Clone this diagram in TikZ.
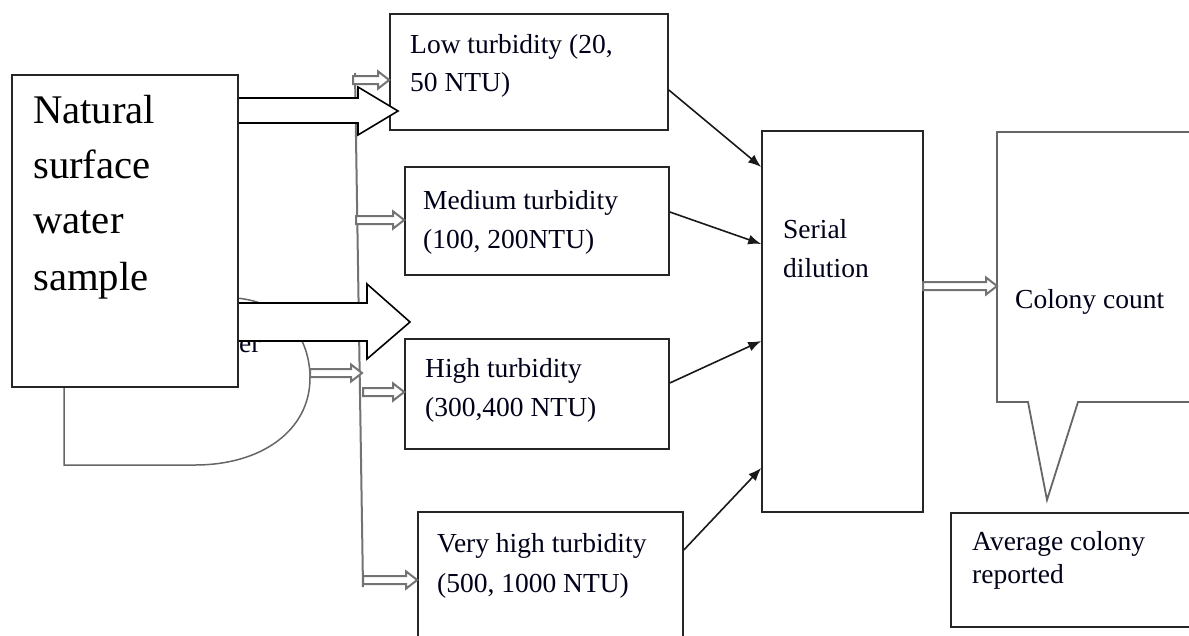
\documentclass[tikz,border=0pt]{standalone}
\usepackage{fontspec}
\setmainfont{Liberation Serif}
\usetikzlibrary{arrows.meta,calc}
\newcommand{\hollowarr}[2]{%
  \path[harrow] let \p1=(#1), \p2=(#2) in
    (\x1,\y1+4pt) -- (\x2-11pt,\y1+4pt) -- (\x2-11pt,\y1+8.5pt) -- (\x2,\y1)
    -- (\x2-11pt,\y1-8.5pt) -- (\x2-11pt,\y1-4pt) -- (\x1,\y1-4pt) -- cycle;}
\tikzset{
  box/.style={draw=black!85, line width=1.6pt, fill=white, inner sep=0pt},
  txt/.style={anchor=base west, inner sep=0pt, text=black!90!blue, font=\fontsize{27.5}{33}\selectfont},
  bigtxt/.style={anchor=base west, inner sep=0pt, text=black, font=\fontsize{40.7}{50}\selectfont},
  conn/.style={draw=black!90, line width=1.6pt, -{Latex[length=13pt,width=10pt]}},
  harrow/.style={draw=black!55, line width=2pt, fill=white},
  bigarrow/.style={draw=black, line width=1.6pt, fill=white},
  grayline/.style={draw=black!55, line width=2pt},
  dshape/.style={draw=black!60, line width=1.5pt},
  callout/.style={draw=black!60, line width=1.8pt, fill=white}
}
\begin{document}
\begin{tikzpicture}[x=1pt,y=-1pt]
\useasboundingbox (0,0) rectangle (1189,635);
\fill[white] (0,0) rectangle (1189,635);
\clip (0,0) rectangle (1189,635);

% hidden D-shaped element behind the sample box
\draw[dshape] (64,387) -- (64,465) -- (195,465)
  .. controls (262,465) and (310,430) .. (310,378)
  .. controls (310,338) and (285,302) .. (236,298);
\node[txt] (frag) at (239,352) {er};

% distribution line
\coordinate (vtop) at (355,73);
\coordinate (vbot) at (363,587);
\draw[grayline] (vtop) -- (vbot);

% boxes
\node[box, minimum width=278pt, minimum height=116pt] (low) at (529,72) {};
\node[box, minimum width=264pt, minimum height=108pt] (med) at (537,221) {};
\node[box, minimum width=264pt, minimum height=110pt] (high) at (537,394) {};
\node[box, minimum width=265pt, minimum height=148pt] (vhigh) at (550.5,586) {};
\node[box, minimum width=161pt, minimum height=381pt] (serial) at (842.5,321.5) {};

% small hollow arrows
\coordinate (d1) at (310,373);
\coordinate (d2) at (362,373);
\coordinate (s1) at (353,80);
\coordinate (s2) at (356,220);
\coordinate (s3) at (363,392);
\coordinate (s4) at (363,580);
\hollowarr{d1}{d2}
\hollowarr{s1}{low.west}
\hollowarr{s2}{med.west}
\hollowarr{s3}{high.west}
\hollowarr{s4}{vhigh.west}

% texts in boxes
\node[txt] (lowa) at (410,53) {Low turbidity (20,};
\node[txt] (lowb) at (410,91) {50 NTU)};
\node[txt] (meda) at (423,209) {Medium turbidity};
\node[txt] (medb) at (423,248) {(100, 200NTU)};
\node[txt] (higha) at (425,377) {High turbidity};
\node[txt] (highb) at (425,416) {(300,400 NTU)};
\node[txt] (vha) at (437,552) {Very high turbidity};
\node[txt] (vhb) at (437,592) {(500, 1000 NTU)};
\node[txt] (sera) at (783,238) {Serial};
\node[txt] (serb) at (783,277) {dilution};

% connectors to serial dilution
\draw[conn] ([yshift=-18pt]low.east) -- ([yshift=154.5pt]serial.west);
\draw[conn] ([yshift=9pt]med.east) -- ([yshift=77.5pt]serial.west);
\draw[conn] ([yshift=11pt]high.east) -- ([yshift=-19.5pt]serial.west);
\draw[conn] ([yshift=36pt]vhigh.east) -- ([yshift=-146.5pt]serial.west);

% big block arrows
\draw[bigarrow] (236,98) -- (358,98) -- (358,87) -- (398,111) -- (358,135) -- (358,123) -- (236,123) -- cycle;
\draw[bigarrow] (236,303) -- (367,303) -- (367,284) -- (410,322) -- (367,359) -- (367,341) -- (236,341) -- cycle;

% sample box
\node[box, minimum width=226pt, minimum height=312pt] (nat) at (125,231) {};
\node[bigtxt] (nata) at (33,123) {Natural};
\node[bigtxt] (natb) at (33,178) {surface};
\node[bigtxt] (natc) at (33,233) {water};
\node[bigtxt] (natd) at (33,290) {sample};

% colony count callout
\draw[callout] (1200,132) -- (997,132) -- (997,402) -- (1028,402) -- (1047,500) -- (1078,402) -- (1200,402);
\coordinate (colonyin) at (997,286);
\node[txt] (col) at (1015,308) {Colony count};
\coordinate (s5) at (923,286);
\hollowarr{s5}{colonyin}

% average box
\node[box, minimum width=249pt, minimum height=114pt] (avg) at (1075.5,570) {};
\node[txt] (avga) at (972,550) {Average colony};
\node[txt] (avgb) at (972,583) {reported};
\end{tikzpicture}
\end{document}
